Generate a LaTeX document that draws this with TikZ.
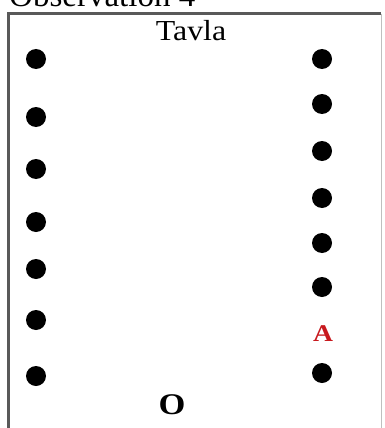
\documentclass[tikz,border=0pt]{standalone}
\usepackage{fontspec}
\setmainfont{Liberation Serif}
\usetikzlibrary{positioning}
\definecolor{markred}{RGB}{200,25,30}
\begin{document}
\begin{tikzpicture}[x=1pt, y=-1pt, every node/.style={inner sep=0pt},
  dot/.style={circle,fill=black,minimum size=20pt}]
\useasboundingbox (0,0) rectangle (384,428);
\fill[white] (0,0) rectangle (384,428);
\draw[line width=3pt, black!65] (8.5,440) -- (8.5,14) -- (381,14);
\draw[line width=1pt, black!25] (381,14) -- (381,440);
\node[anchor=base west, font=\fontsize{33}{36}\selectfont] (title) at (9,7) {Observation 4};
\node[anchor=base, font=\fontsize{29}{32}\selectfont] (tavla) at (191,41) {\scalebox{1.1}[1]{Tavla}};
\foreach \y [count=\i] in {59,117,169,222,269,320,376}
  \node[dot] (l\i) at (36,\y) {};
\foreach \y [count=\i] in {59,104,151,198,243,287,373}
  \node[dot] (r\i) at (322,\y) {};
\node[anchor=base, text=markred, font=\bfseries\fontsize{24}{26}\selectfont] (a) at (323,341) {\scalebox{1.15}[1]{A}};
\node[anchor=base, font=\bfseries\fontsize{30}{32}\selectfont] (o) at (172,414) {\scalebox{1.15}[1]{O}};
\end{tikzpicture}
\end{document}
